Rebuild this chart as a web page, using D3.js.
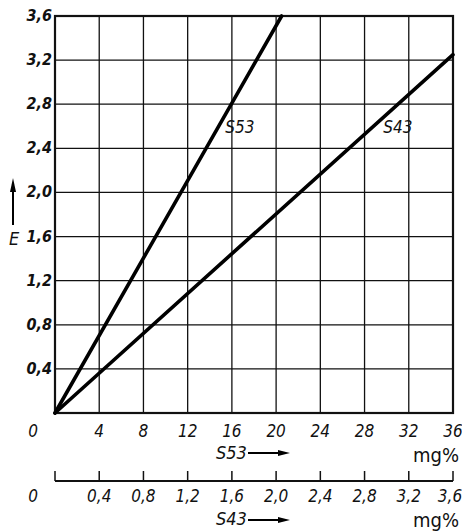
<!DOCTYPE html>
<html><head><meta charset="utf-8">
<script src="https://cdn.jsdelivr.net/npm/d3@7/dist/d3.min.js"></script>
<style>
body{margin:0;background:#fff;}
text{font-family:"DejaVu Sans Condensed","Liberation Sans Narrow",sans-serif;font-stretch:condensed;font-style:italic;fill:#111;}
</style></head>
<body>
<svg id="c" width="462" height="531"></svg>
<script>
const xTicksS53 = [0,4,8,12,16,20,24,28,32,36];
const xTicksS43 = [0,0.4,0.8,1.2,1.6,2.0,2.4,2.8,3.2,3.6];
const yTicks = [0,0.4,0.8,1.2,1.6,2.0,2.4,2.8,3.2,3.6];
const seriesNames = ["S53","S43"];
const s53 = [[0,0],[20.5,3.6]];
const s43 = [[0,0],[36,3.25]];
const labelPos = [[15.4,2.54],[29.7,2.54]];

const fmt = v => v===0 ? "0" : d3.format(".1f")(v).replace(".", ",");
const svg = d3.select("#c");
const L=55,R=453,T=16,B=413;
const x = d3.scaleLinear().domain([0,36]).range([L,R]);
const x2 = d3.scaleLinear().domain([0,3.6]).range([L,R]);
const y = d3.scaleLinear().domain([0,3.6]).range([B,T]);

// grid
svg.append("g").selectAll("line").data(xTicksS53.slice(1,-1)).join("line")
  .attr("x1",d=>x(d)).attr("x2",d=>x(d)).attr("y1",T).attr("y2",B)
  .attr("stroke","#111").attr("stroke-width",1.3);
svg.append("g").selectAll("line").data(yTicks.slice(1,-1)).join("line")
  .attr("y1",d=>y(d)).attr("y2",d=>y(d)).attr("x1",L).attr("x2",R)
  .attr("stroke","#111").attr("stroke-width",1.3);
svg.append("rect").attr("x",L).attr("y",T).attr("width",R-L).attr("height",B-T)
  .attr("fill","none").attr("stroke","#111").attr("stroke-width",2.2);

// lines
const line = d3.line().x(d=>x(d[0])).y(d=>y(d[1]));
[s53,s43].forEach(s=>{
  svg.append("path").attr("d",line(s)).attr("fill","none").attr("stroke","#000")
    .attr("stroke-width",3.6).attr("stroke-linecap","round");
});
seriesNames.forEach((n,i)=>{
  svg.append("text").attr("x",x(labelPos[i][0])).attr("y",y(labelPos[i][1]))
    .attr("font-size",17).text(n);
});

// y ticks
svg.append("g").selectAll("text").data(yTicks.slice(1)).join("text")
  .attr("x",52).attr("y",d=>y(d)+5).attr("text-anchor","end")
  .attr("font-size",16).attr("font-weight","bold").text(fmt);

// x ticks (S53)
svg.append("g").selectAll("text").data(xTicksS53).join("text")
  .attr("x",d=>d===0?33:x(d)).attr("y",437).attr("text-anchor","middle")
  .attr("font-size",17).text(d=>String(d));

// second axis
svg.append("line").attr("x1",L).attr("x2",R).attr("y1",481).attr("y2",481)
  .attr("stroke","#111").attr("stroke-width",1.8);
svg.append("g").selectAll("line").data(xTicksS43).join("line")
  .attr("x1",d=>x2(d)).attr("x2",d=>x2(d)).attr("y1",471).attr("y2",481)
  .attr("stroke","#111").attr("stroke-width",1.5);
svg.append("g").selectAll("text").data(xTicksS43).join("text")
  .attr("x",d=>d===0?33:(d===3.6?x2(d)-3:x2(d))).attr("y",502).attr("text-anchor","middle")
  .attr("font-size",17).text(fmt);

// axis titles
function arrowH(x0,x1,yy){
  svg.append("line").attr("x1",x0).attr("x2",x1-8).attr("y1",yy).attr("y2",yy)
    .attr("stroke","#000").attr("stroke-width",2);
  svg.append("path").attr("d",`M${x1},${yy} L${x1-12},${yy-3} L${x1-12},${yy+3} Z`).attr("fill","#000");
}
svg.append("text").attr("x",216).attr("y",459).attr("font-size",18).text("S53");
arrowH(248,290,453);
svg.append("text").attr("x",216).attr("y",525).attr("font-size",18).text("S43");
arrowH(248,290,520);
svg.append("text").attr("x",459).attr("y",462).attr("text-anchor","end")
  .attr("font-size",20).style("font-style","normal").text("mg%");
svg.append("text").attr("x",459).attr("y",527).attr("text-anchor","end")
  .attr("font-size",20).style("font-style","normal").text("mg%");

// E label with arrow
svg.append("line").attr("x1",13).attr("x2",13).attr("y1",225).attr("y2",188)
  .attr("stroke","#000").attr("stroke-width",2);
svg.append("path").attr("d","M13,178 L10,192 L16,192 Z").attr("fill","#000");
svg.append("text").attr("x",14).attr("y",245).attr("text-anchor","middle")
  .attr("font-size",18).text("E");
</script>
</body></html>
